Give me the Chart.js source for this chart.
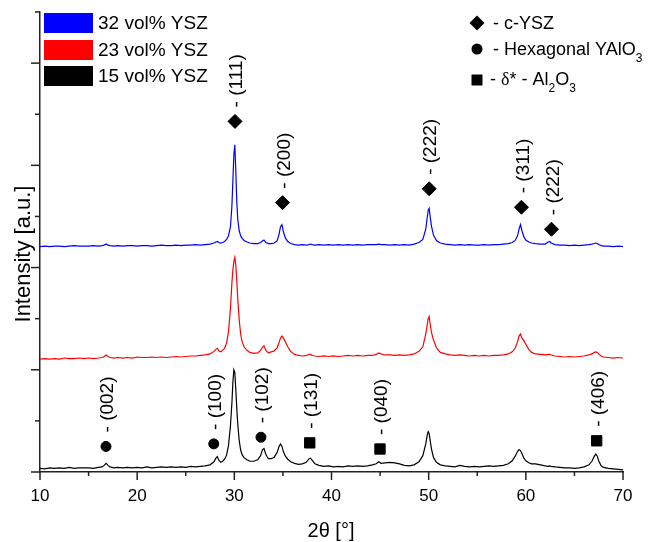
<!DOCTYPE html>
<html>
<head>
<meta charset="utf-8">
<script src="https://cdn.jsdelivr.net/npm/chart.js@4/dist/chart.umd.min.js"></script>
<style>
  html, body { margin: 0; padding: 0; background: #fff; }
  #wrap { width: 651px; height: 542px; position: relative; }
</style>
</head>
<body>
<div id="wrap"><canvas id="c"></canvas></div>
<script>
// 2θ positions (degrees)
const twoTheta = [
  10.0,10.5,11.0,11.5,12.0,12.5,13.0,13.5,14.0,14.5,
  15.0,15.5,16.0,16.4,16.6,16.8,17.0,17.2,17.6,18.0,
  18.5,19.0,19.5,20.0,20.5,21.0,21.5,22.0,22.5,23.0,
  23.5,24.0,24.5,25.0,25.5,26.0,26.5,27.0,27.5,27.9,
  28.1,28.25,28.4,28.6,28.8,29.0,29.2,29.4,29.6,29.75,
  29.85,29.95,30.05,30.15,30.25,30.35,30.5,30.65,30.8,31.0,
  31.3,31.6,32.0,32.4,32.7,32.9,33.05,33.25,33.5,33.8,
  34.1,34.4,34.6,34.75,34.9,35.05,35.25,35.5,35.8,36.2,
  36.6,37.0,37.4,37.7,37.85,38.0,38.3,38.7,39.2,39.7,
  40.2,40.7,41.2,41.7,42.2,42.7,43.2,43.7,44.2,44.6,
  44.85,45.1,45.5,46.0,46.5,47.0,47.5,48.0,48.5,49.0,
  49.4,49.7,49.85,49.95,50.05,50.15,50.3,50.5,50.8,51.2,
  51.7,52.2,52.7,53.2,53.7,54.2,54.7,55.2,55.7,56.2,
  56.7,57.2,57.7,58.2,58.6,58.9,59.15,59.3,59.45,59.6,
  59.8,60.0,60.3,60.6,61.0,61.5,62.0,62.3,62.45,62.6,
  63.0,63.5,64.0,64.5,65.0,65.5,66.0,66.5,66.8,67.05,
  67.2,67.35,67.5,67.75,68.0,68.5,69.0,69.5,70.0
];
// Intensity (a.u., stacked offsets as plotted)
const ysz32 = [
  4.41,4.42,4.41,4.42,4.42,4.41,4.42,4.43,4.42,4.42,
  4.42,4.43,4.42,4.43,4.44,4.46,4.44,4.43,4.42,4.43,
  4.42,4.43,4.43,4.42,4.43,4.43,4.42,4.43,4.44,4.43,
  4.43,4.44,4.43,4.44,4.44,4.45,4.44,4.45,4.46,4.48,
  4.50,4.51,4.49,4.48,4.49,4.51,4.55,4.62,4.80,5.20,
  5.70,6.20,6.40,5.90,5.30,4.95,4.72,4.62,4.57,4.53,
  4.50,4.48,4.47,4.47,4.49,4.52,4.54,4.49,4.47,4.47,
  4.48,4.52,4.65,4.80,4.84,4.70,4.58,4.51,4.47,4.45,
  4.44,4.45,4.44,4.45,4.46,4.45,4.44,4.45,4.44,4.45,
  4.44,4.45,4.44,4.45,4.44,4.45,4.44,4.45,4.45,4.45,
  4.46,4.45,4.45,4.44,4.45,4.44,4.45,4.44,4.46,4.49,
  4.55,4.75,4.98,5.12,5.16,5.00,4.80,4.63,4.53,4.48,
  4.46,4.45,4.44,4.45,4.44,4.45,4.44,4.44,4.45,4.44,
  4.45,4.45,4.46,4.47,4.49,4.53,4.62,4.75,4.84,4.72,
  4.60,4.54,4.50,4.48,4.47,4.46,4.46,4.50,4.51,4.48,
  4.45,4.44,4.44,4.43,4.44,4.43,4.44,4.45,4.46,4.47,
  4.48,4.47,4.45,4.43,4.42,4.42,4.41,4.42,4.41
];
const ysz23 = [
  2.21,2.22,2.21,2.22,2.21,2.23,2.22,2.22,2.23,2.22,
  2.23,2.22,2.23,2.24,2.26,2.29,2.26,2.24,2.23,2.24,
  2.23,2.24,2.23,2.25,2.24,2.24,2.25,2.24,2.25,2.24,
  2.25,2.26,2.25,2.26,2.27,2.27,2.28,2.29,2.31,2.36,
  2.40,2.42,2.37,2.35,2.38,2.42,2.52,2.75,3.20,3.70,
  3.95,4.12,4.20,4.05,3.75,3.40,2.98,2.70,2.55,2.45,
  2.38,2.34,2.32,2.33,2.38,2.44,2.47,2.38,2.33,2.35,
  2.37,2.43,2.53,2.62,2.66,2.62,2.55,2.45,2.36,2.30,
  2.28,2.27,2.28,2.30,2.30,2.28,2.27,2.26,2.27,2.26,
  2.27,2.26,2.27,2.28,2.27,2.28,2.27,2.28,2.28,2.30,
  2.33,2.31,2.29,2.29,2.28,2.29,2.28,2.29,2.31,2.36,
  2.45,2.70,2.88,3.00,3.04,2.90,2.72,2.58,2.43,2.34,
  2.31,2.29,2.28,2.29,2.28,2.27,2.28,2.27,2.28,2.27,
  2.28,2.28,2.29,2.31,2.35,2.42,2.55,2.66,2.70,2.62,
  2.57,2.50,2.40,2.34,2.31,2.30,2.29,2.30,2.30,2.29,
  2.27,2.26,2.25,2.26,2.25,2.26,2.27,2.29,2.31,2.34,
  2.35,2.34,2.31,2.27,2.25,2.24,2.23,2.24,2.23
];
const ysz15 = [
  0.07,0.06,0.08,0.07,0.08,0.07,0.09,0.07,0.08,0.08,
  0.08,0.07,0.09,0.10,0.13,0.17,0.13,0.10,0.08,0.09,
  0.08,0.09,0.08,0.09,0.08,0.10,0.08,0.09,0.10,0.09,
  0.10,0.09,0.10,0.09,0.11,0.10,0.11,0.12,0.14,0.20,
  0.27,0.30,0.23,0.19,0.21,0.25,0.33,0.52,0.90,1.35,
  1.75,2.00,1.95,1.62,1.25,0.95,0.62,0.43,0.34,0.28,
  0.24,0.21,0.21,0.24,0.32,0.44,0.46,0.34,0.26,0.26,
  0.29,0.38,0.50,0.55,0.50,0.40,0.31,0.25,0.20,0.17,
  0.15,0.16,0.19,0.26,0.27,0.23,0.16,0.13,0.11,0.12,
  0.10,0.11,0.10,0.12,0.11,0.12,0.11,0.12,0.14,0.16,
  0.20,0.17,0.18,0.19,0.18,0.16,0.13,0.12,0.14,0.20,
  0.32,0.55,0.72,0.79,0.75,0.62,0.44,0.28,0.19,0.14,
  0.12,0.11,0.10,0.13,0.11,0.10,0.11,0.10,0.11,0.12,
  0.11,0.12,0.13,0.16,0.22,0.31,0.40,0.44,0.42,0.36,
  0.27,0.22,0.18,0.16,0.16,0.14,0.12,0.11,0.12,0.11,
  0.10,0.09,0.08,0.08,0.07,0.08,0.10,0.14,0.21,0.31,
  0.35,0.31,0.22,0.12,0.09,0.07,0.06,0.05,0.04
];
const seriesNames = ['32 vol% YSZ', '23 vol% YSZ', '15 vol% YSZ'];

// Phase markers (2θ, marker height) and Miller indices
const cubicX = [30.07, 34.96, 50.06, 59.55, 62.64];
const cubicY = [6.86, 5.27, 5.54, 5.18, 4.75];
const cubicHkl = ['(111)', '(200)', '(222)', '(311)', '(222)'];
const yalo3X = [16.79, 27.88, 32.74];
const yalo3Y = [0.50, 0.55, 0.68];
const yalo3Hkl = ['(002)', '(100)', '(102)'];
const aluminaX = [37.76, 44.99, 67.29];
const aluminaY = [0.57, 0.45, 0.61];
const aluminaHkl = ['(131)', '(040)', '(406)'];

const xTicks = [10, 20, 30, 40, 50, 60, 70];

const FONT = '"Liberation Sans", Arial, sans-serif';
Chart.defaults.font.family = FONT;
Chart.defaults.color = '#000';

const pts = (xs, ys) => xs.map((x, i) => ({ x: x, y: ys[i] }));

const annotPlugin = {
  id: 'annot',
  afterDatasetsDraw(chart) {
    const ctx = chart.ctx, xs = chart.scales.x, ys = chart.scales.y, a = chart.chartArea;
    ctx.save();
    // tick marks
    ctx.strokeStyle = '#222'; ctx.lineWidth = 1.5;
    for (let v = 10; v <= 70; v += 5) {
      const px = xs.getPixelForValue(v);
      const len = (v % 10 === 0) ? 8 : 4;
      ctx.beginPath(); ctx.moveTo(px, a.bottom); ctx.lineTo(px, a.bottom + len); ctx.stroke();
    }
    for (let v = 0; v <= 9; v++) {
      const py = ys.getPixelForValue(v);
      const len = (v % 2 === 0) ? 9 : 5;
      ctx.beginPath(); ctx.moveTo(a.left - len, py); ctx.lineTo(a.left, py); ctx.stroke();
    }
    // hkl labels
    ctx.fillStyle = '#000';
    ctx.font = '19px ' + FONT;
    ctx.textAlign = 'left'; ctx.textBaseline = 'middle';
    [[cubicX, cubicY, cubicHkl], [yalo3X, yalo3Y, yalo3Hkl], [aluminaX, aluminaY, aluminaHkl]].forEach(g => {
      g[0].forEach((x, i) => {
        const px = xs.getPixelForValue(x) + 2;
        const py = ys.getPixelForValue(g[1][i]) - 14;
        ctx.save(); ctx.translate(px, py); ctx.rotate(-Math.PI / 2);
        ctx.fillText('- ' + g[2][i], 0, 0);
        ctx.restore();
      });
    });
    ctx.restore();
  },
  afterDraw(chart) {
    const ctx = chart.ctx;
    ctx.save();
    ctx.fillStyle = '#000';
    // series legend (top-left)
    const cols = ['#0000ff', '#ff0000', '#000000'];
    const rows = [23, 50, 76];
    ctx.font = '19px ' + FONT; ctx.textBaseline = 'middle'; ctx.textAlign = 'left';
    seriesNames.forEach((n, i) => {
      ctx.fillStyle = cols[i];
      ctx.fillRect(44, rows[i] - 10, 49, 20);
      ctx.fillStyle = '#000';
      ctx.fillText(n, 98, rows[i] + 1);
    });
    // phase legend (top-right)
    const sx = 477;
    ctx.beginPath(); ctx.moveTo(sx - 7.5, 23); ctx.lineTo(sx, 15.5); ctx.lineTo(sx + 7.5, 23); ctx.lineTo(sx, 30.5); ctx.closePath(); ctx.fill();
    ctx.beginPath(); ctx.arc(sx, 49, 5.5, 0, Math.PI * 2); ctx.fill();
    ctx.fillRect(sx - 5.5, 74.5, 11, 11);
    const main = '18px ' + FONT, sub = '12px ' + FONT, serif = '18px "Liberation Serif", "Times New Roman", serif';
    const runs = (x, y, parts) => {
      parts.forEach(p => {
        ctx.font = p[1];
        ctx.fillText(p[0], x, y + (p[2] || 0));
        x += ctx.measureText(p[0]).width;
      });
    };
    runs(493, 24, [['- c-YSZ', main]]);
    runs(493, 50, [['- Hexagonal YAlO', main], ['3', sub, 9]]);
    runs(490, 80, [['- ', main], ['\u03b4', serif], ['* - Al', main], ['2', sub, 9], ['O', main], ['3', sub, 9]]);
    // axis titles
    ctx.font = '20px ' + FONT; ctx.textAlign = 'center';
    ctx.fillText('2\u03b8 [\u00b0]', 331, 531);
    ctx.font = '22px ' + FONT;
    ctx.save(); ctx.translate(24, 254); ctx.rotate(-Math.PI / 2);
    ctx.fillText('Intensity [a.u.]', 0, 0);
    ctx.restore();
    ctx.restore();
  }
};

new Chart(document.getElementById('c'), {
  type: 'scatter',
  data: {
    datasets: [
      { label: seriesNames[0], data: pts(twoTheta, ysz32), showLine: true, borderColor: '#0000ff', borderWidth: 1.2, pointRadius: 0, fill: false },
      { label: seriesNames[1], data: pts(twoTheta, ysz23), showLine: true, borderColor: '#ff0000', borderWidth: 1.2, pointRadius: 0, fill: false },
      { label: seriesNames[2], data: pts(twoTheta, ysz15), showLine: true, borderColor: '#000000', borderWidth: 1.2, pointRadius: 0, fill: false },
      { label: 'c-YSZ', data: pts(cubicX, cubicY), pointStyle: 'rectRot', pointRadius: 7, backgroundColor: '#000', borderColor: '#000', borderWidth: 1 },
      { label: 'Hexagonal YAlO3', data: pts(yalo3X, yalo3Y), pointStyle: 'circle', pointRadius: 5, backgroundColor: '#000', borderColor: '#000', borderWidth: 1 },
      { label: 'Al2O3', data: pts(aluminaX, aluminaY), pointStyle: 'rect', pointRadius: 7.3, backgroundColor: '#000', borderColor: '#000', borderWidth: 1 }
    ]
  },
  options: {
    responsive: true,
    maintainAspectRatio: false,
    animation: false,
    layout: { padding: { top: 12, right: 28, left: 0, bottom: 0 } },
    plugins: { legend: { display: false }, tooltip: { enabled: false } },
    scales: {
      x: {
        type: 'linear', min: 10, max: 70,
        afterFit: s => { s.height = 70; },
        afterBuildTicks: s => { s.ticks = xTicks.map(v => ({ value: v })); },
        ticks: { font: { size: 17 }, color: '#000', padding: 6, maxRotation: 0 },
        grid: { display: true, drawOnChartArea: false, drawTicks: true, tickLength: 8, color: 'rgba(0,0,0,0)' },
        border: { display: true, color: '#222', width: 1.5 }
      },
      y: {
        type: 'linear', min: 0, max: 9,
        afterFit: s => { s.width = 40; },
        ticks: { display: false, stepSize: 1 },
        grid: { display: false },
        border: { display: true, color: '#222', width: 1.5 }
      }
    }
  },
  plugins: [annotPlugin]
});
</script>
</body>
</html>
